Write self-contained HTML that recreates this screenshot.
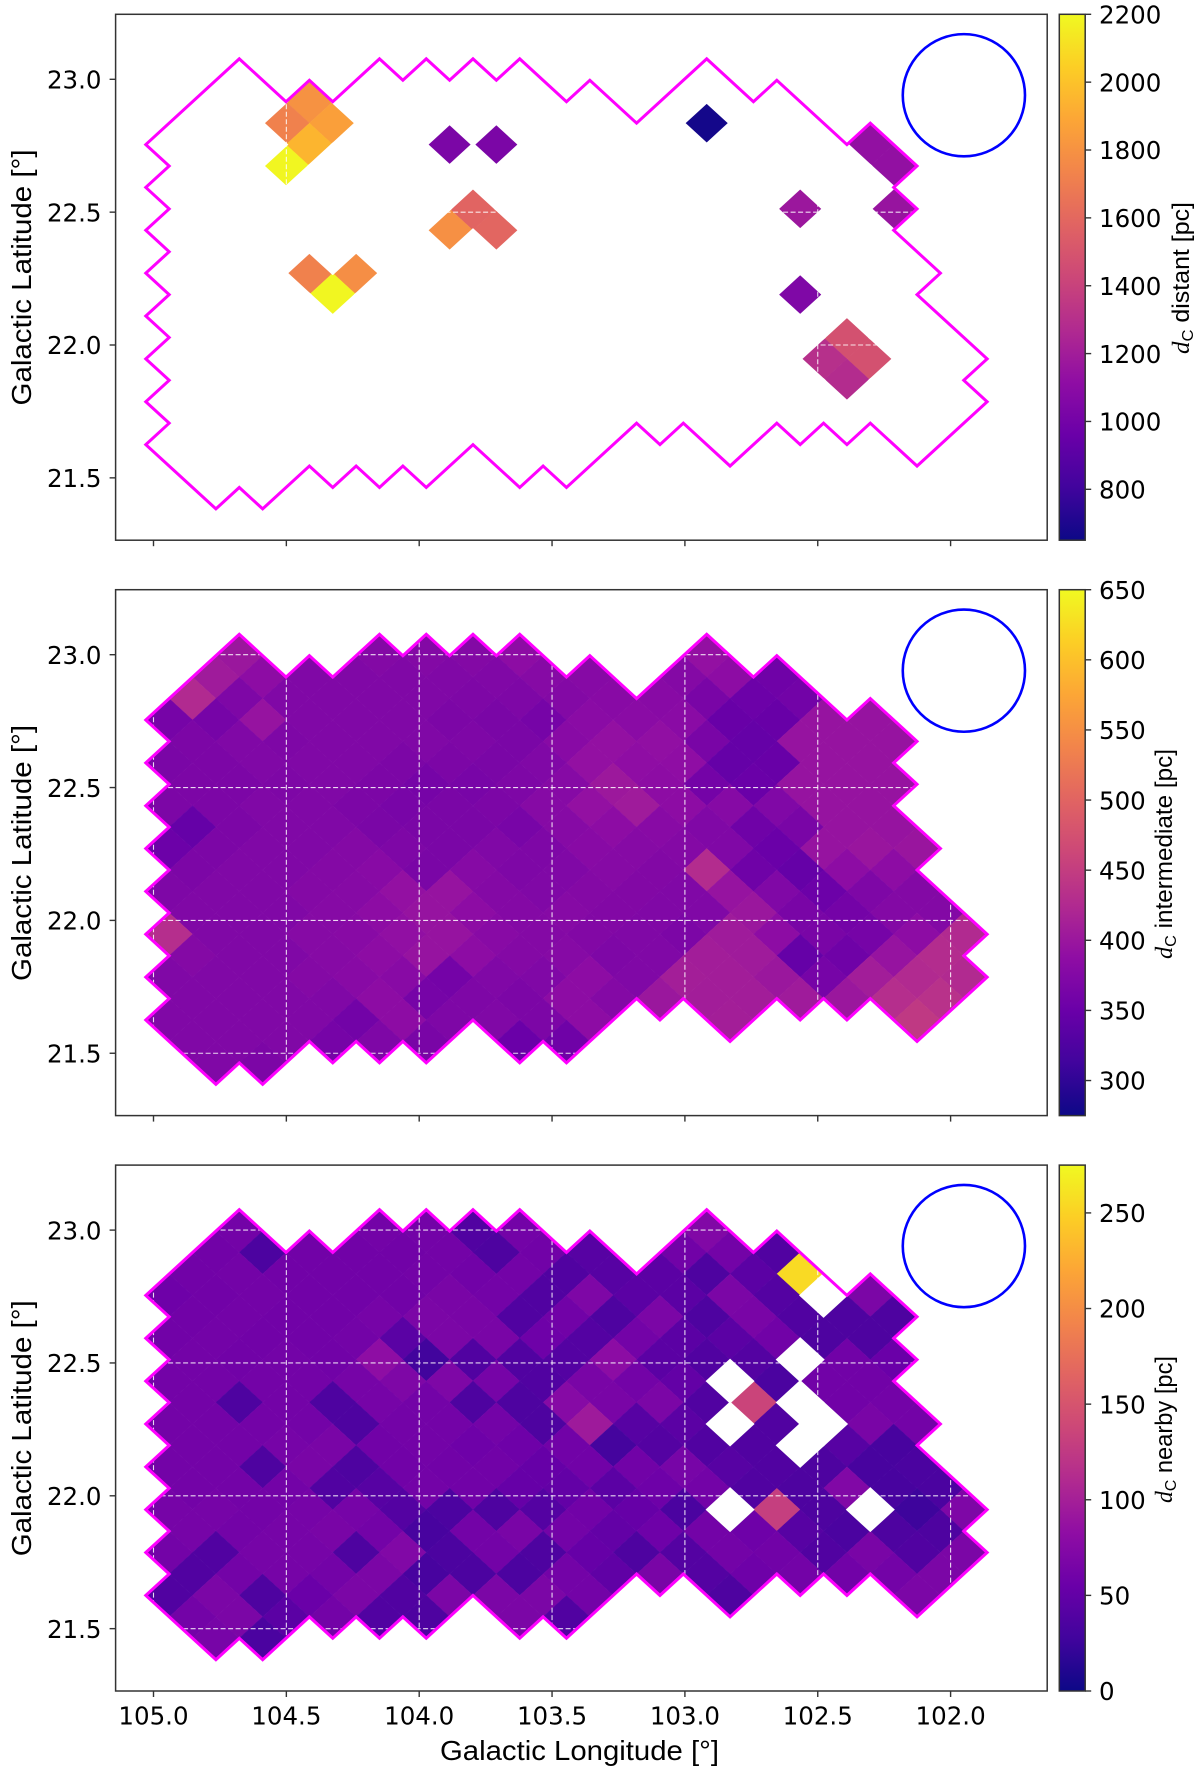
<!DOCTYPE html>
<html>
<head>
<meta charset="utf-8">
<title>Distance maps</title>
<style>
html,body{margin:0;padding:0;background:#fff;width:1200px;height:1774px;overflow:hidden}
svg{display:block}
text{font-family:"DejaVu Sans","Liberation Sans",sans-serif;fill:#000}
.tick{font-size:24.5px}
.axl{font-family:"Liberation Sans","DejaVu Sans",sans-serif;font-size:28px}
.cbl{font-family:"Liberation Sans","DejaVu Sans",sans-serif;font-size:24px}
.mi{font-family:"Liberation Serif",serif;font-style:italic}
</style>
</head>
<body>
<svg id="figure" xmlns="http://www.w3.org/2000/svg" width="1200" height="1774" viewBox="0 0 1200 1774">
<defs>
<linearGradient id="plasma-gradient" x1="0" y1="1" x2="0" y2="0">
<stop offset="0" stop-color="#0d0887"/><stop offset="0.1" stop-color="#41049d"/><stop offset="0.2" stop-color="#6a00a8"/><stop offset="0.3" stop-color="#8f0da4"/><stop offset="0.4" stop-color="#b12a90"/><stop offset="0.5" stop-color="#cc4778"/><stop offset="0.6" stop-color="#e16462"/><stop offset="0.7" stop-color="#f2844b"/><stop offset="0.8" stop-color="#fca636"/><stop offset="0.9" stop-color="#fcce25"/><stop offset="1" stop-color="#f0f921"/>
</linearGradient>
</defs>
<g id="layer"></g>
<text class="axl" transform="translate(31,277.5) rotate(-90)" text-anchor="middle" textLength="256" lengthAdjust="spacingAndGlyphs">Galactic Latitude [°]</text>
<text class="axl" transform="translate(31,853) rotate(-90)" text-anchor="middle" textLength="256" lengthAdjust="spacingAndGlyphs">Galactic Latitude [°]</text>
<text class="axl" transform="translate(31,1428.3) rotate(-90)" text-anchor="middle" textLength="256" lengthAdjust="spacingAndGlyphs">Galactic Latitude [°]</text>
<text class="axl" x="440" y="1760" textLength="279" lengthAdjust="spacingAndGlyphs">Galactic Longitude [°]</text>
<text class="cbl" transform="translate(1189,354) rotate(-90)" textLength="152" lengthAdjust="spacingAndGlyphs"><tspan class="mi">d</tspan><tspan dy="4" font-size="16">C</tspan><tspan dy="-4"> distant [pc]</tspan></text>
<text class="cbl" transform="translate(1172,959) rotate(-90)" textLength="210" lengthAdjust="spacingAndGlyphs"><tspan class="mi">d</tspan><tspan dy="4" font-size="16">C</tspan><tspan dy="-4"> intermediate [pc]</tspan></text>
<text class="cbl" transform="translate(1172,1503) rotate(-90)" textLength="147" lengthAdjust="spacingAndGlyphs"><tspan class="mi">d</tspan><tspan dy="4" font-size="16">C</tspan><tspan dy="-4"> nearby [pc]</tspan></text>
</svg>
<script>
// ---- categories: HEALPix-like grid columns per row (row number = index + 1)
const rowColumns = [
[4,10,12,14,16,24],
[3,5,7,9,11,13,15,17,19,23,25,27],
[2,4,6,8,10,12,14,16,18,20,22,24,26,28],
[1,3,5,7,9,11,13,15,17,19,21,23,25,27,29,31],
[2,4,6,8,10,12,14,16,18,20,22,24,26,28,30,32],
[1,3,5,7,9,11,13,15,17,19,21,23,25,27,29,31],
[2,4,6,8,10,12,14,16,18,20,22,24,26,28,30,32],
[1,3,5,7,9,11,13,15,17,19,21,23,25,27,29,31],
[2,4,6,8,10,12,14,16,18,20,22,24,26,28,30,32],
[1,3,5,7,9,11,13,15,17,19,21,23,25,27,29,31,33],
[2,4,6,8,10,12,14,16,18,20,22,24,26,28,30,32],
[1,3,5,7,9,11,13,15,17,19,21,23,25,27,29,31,33],
[2,4,6,8,10,12,14,16,18,20,22,24,26,28,30,32,34],
[1,3,5,7,9,11,13,15,17,19,21,23,25,27,29,31,33,35],
[2,4,6,8,10,12,14,16,18,20,22,24,26,28,30,32,34],
[1,3,5,7,9,11,13,15,17,19,21,23,25,27,29,31,33,35],
[2,4,6,8,10,12,14,16,18,20,22,24,26,28,30,32,34],
[1,3,5,7,9,11,13,15,17,19,25,33],
[2,4,6,8,10,12,16,18],
[3,5]
];

// ---- series: intermediate distance [pc], aligned with rowColumns
const intermediateValues = [
[400,375,375,375,385,392],
[405,385,372,372,372,372,372,378,378,376,385,355],
[425,370,372,372,372,372,370,370,375,380,380,365,352,358],
[362,362,395,372,372,372,368,366,362,382,382,382,348,348,395,395],
[368,372,370,372,372,372,370,366,380,392,390,365,345,395,395,395],
[366,368,372,372,372,368,368,366,372,392,388,388,345,348,395,395],
[368,368,370,372,368,362,364,370,378,402,385,360,350,395,395,395],
[368,368,372,372,368,364,366,368,378,392,405,385,378,372,395,395],
[345,368,372,372,366,366,366,364,378,385,380,372,355,365,395,395],
[352,368,372,372,376,370,366,372,370,380,378,376,372,350,395,398,398],
[368,372,372,376,380,366,378,370,372,378,374,428,355,345,385,385],
[370,372,372,376,378,392,395,376,372,376,374,372,395,372,352,370,375],
[372,372,372,378,385,395,385,376,378,374,372,372,400,365,360,375,375],
[430,372,372,378,380,390,395,380,376,374,372,368,405,385,365,362,385,425],
[376,372,372,378,385,395,385,376,378,370,372,408,405,345,355,395,428],
[372,372,372,376,380,380,360,372,372,385,372,410,408,400,362,408,425,425],
[372,372,372,372,385,362,370,368,385,376,400,408,408,405,400,430,435],
[372,372,372,372,358,385,370,372,368,385,410,445],
[372,372,372,362,370,365,350,355],
[372,368]
];

// ---- series: nearby distance [pc], aligned with rowColumns (null = no data)
const nearbyValues = [
[62,62,62,38,62,72],
[60,35,60,60,60,62,36,60,42,60,62,38],
[60,62,60,60,60,62,60,62,38,42,45,36,45,255],
[58,60,62,60,60,60,66,62,38,70,45,45,68,40,null,68],
[60,62,60,60,64,68,66,38,60,36,68,36,66,38,36,36],
[60,62,60,60,62,44,68,66,58,40,62,45,45,60,36,36],
[62,60,62,60,82,28,38,38,40,80,45,38,40,null,60,55],
[62,62,62,62,64,70,70,64,38,66,62,50,null,34,60,60],
[62,36,62,36,64,62,36,36,76,66,68,38,135,null,60,62],
[62,62,62,62,36,62,62,62,36,95,42,45,null,38,null,66,62],
[62,62,64,66,60,62,58,58,60,30,40,38,38,null,42,32],
[62,62,36,66,36,60,60,60,52,60,60,65,42,38,36,32,34],
[62,62,62,38,42,62,60,52,50,45,58,62,38,36,72,32,34],
[64,64,62,64,64,40,35,36,40,60,52,34,null,130,36,null,26,70],
[64,62,64,66,62,32,62,66,62,50,58,62,58,42,34,36,36],
[62,38,64,64,36,72,35,62,36,52,36,40,62,60,38,66,38,68],
[38,62,64,62,68,32,35,35,62,48,66,40,58,62,60,62,68],
[38,68,36,55,68,38,68,68,68,62,36,68],
[62,68,45,62,38,36,68,38],
[65,34]
];

// ---- series: distant distance [pc], only the detected cells
const distantColumns = [7,6,8,7,6,13,15,14,13,15,7,9,8,24,31,32,32,28,28,30,31,29,30];
const distantRows    = [2,3,3,4,5,4,4,7,8,8,10,10,11,3,4,5,7,7,11,13,14,14,15];
const distantValues  = [1800,1720,1860,1950,2190,1030,1030,1580,1790,1590,1720,1780,2190,670,1130,1130,1150,1170,1050,1480,1480,1300,1280];

// ---- outline of the mapped region, as grid vertices
const outlineColumns = [0,4,6,7,8,10,11,12,13,14,15,16,18,19,21,24,26,27,30,31,33,32,33,32,34,33,36,35,36,33,31,30,29,28,27,25,23,22,21,18,17,16,14,12,11,10,9,8,7,5,4,3,0,1,0,1,0,1,0,1,0,1,0,1,0,1];
const outlineRows    = [4,0,2,1,2,0,1,0,1,0,1,0,2,1,3,0,2,1,4,3,5,6,7,8,10,11,14,15,16,19,17,18,17,18,17,19,17,18,17,20,19,20,18,20,19,20,19,20,19,21,20,21,18,17,16,15,14,13,12,11,10,9,8,7,6,5];

// ---- tick labels
const lonTicks = [105.0,104.5,104.0,103.5,103.0,102.5,102.0];
const latTicks = [23.0,22.5,22.0,21.5];
const distantBarTicks = [800,1000,1200,1400,1600,1800,2000,2200];
const intermediateBarTicks = [300,350,400,450,500,550,600,650];
const nearbyBarTicks = [0,50,100,150,200,250];

// ---- colour ranges
const distantRange = [650,2200];
const intermediateRange = [275,650];
const nearbyRange = [0,275];

// ---- beam centre and radius in degrees
const beamLon = 101.95, beamLat = 22.94, beamRadius = 0.23;

// ---- grid definition in degrees
const gridLon0 = 105.029, gridLonStep = 0.08796, gridLat0 = 23.077, gridLatStep = 0.08066;

const NS = 'http://www.w3.org/2000/svg';
const layer = document.getElementById('layer');
const plasmaStops = [[13,8,135],[65,4,157],[106,0,168],[143,13,164],[177,42,144],[204,71,120],[225,100,98],[242,132,75],[252,166,54],[252,206,37],[240,249,33]];
function plasma(t){
  t = Math.max(0, Math.min(1, t)) * 10;
  const k = Math.min(9, Math.floor(t)), f = t - k;
  const a = plasmaStops[k], b = plasmaStops[k + 1];
  return 'rgb(' + [0,1,2].map(n => Math.round(a[n] + (b[n] - a[n]) * f)).join(',') + ')';
}
const LEFT = 115.6, RIGHT = 1047.2, HEIGHT = 525.9, CB_L = 1059.3, CB_R = 1085.2, PXDEG = 265.7;
function lonToX(lon){ return 153.5 + (105 - lon) * PXDEG; }
function latToY(lat, top){ return top + 65 + (23 - lat) * PXDEG; }
function colLon(c){ return gridLon0 - c * gridLonStep; }
function rowLat(r){ return gridLat0 - r * gridLatStep; }
function make(tag, attrs){
  const el = document.createElementNS(NS, tag);
  for (const k in attrs) el.setAttribute(k, attrs[k]);
  layer.appendChild(el);
  return el;
}
function diamond(col, row, half, top){
  return [[col-half,row],[col,row-half],[col+half,row],[col,row+half]]
    .map(p => lonToX(colLon(p[0])).toFixed(2) + ',' + latToY(rowLat(p[1]), top).toFixed(2)).join(' ');
}
function drawCell(col, row, value, range, top){
  const color = plasma((value - range[0]) / (range[1] - range[0]));
  const el = make('polygon', {points: diamond(col, row, 1, top), fill: color, stroke: color, 'stroke-width': 0.4});
  
  
}
function drawHole(col, row, half, top){
  const el = make('polygon', {points: diamond(col, row, half, top), fill: '#fff'});
  
  
}
function drawPanel(name, top, range, barTicks, cells, showXLabels){
  cells();
  lonTicks.forEach(lon => {
    const g = make('line', {x1: lonToX(lon), x2: lonToX(lon), y1: top, y2: top + HEIGHT, stroke: '#fff', 'stroke-width': 1.1, 'stroke-dasharray': '5 2.5', opacity: 0.85});
    
    
  });
  latTicks.forEach(lat => {
    const g = make('line', {x1: LEFT, x2: RIGHT, y1: latToY(lat, top), y2: latToY(lat, top), stroke: '#fff', 'stroke-width': 1.1, 'stroke-dasharray': '5 2.5', opacity: 0.85});
    
    
  });
  const outlinePts = outlineColumns.map((c, n) => lonToX(colLon(c)).toFixed(2) + ',' + latToY(rowLat(outlineRows[n]), top).toFixed(2)).join(' ');
  const outline = make('polygon', {points: outlinePts, fill: 'none', stroke: '#ff00ff', 'stroke-width': 3, 'stroke-linejoin': 'miter'});
  
  
  const beam = make('circle', {cx: lonToX(beamLon), cy: latToY(beamLat, top), r: beamRadius * PXDEG, fill: 'none', stroke: '#0000ff', 'stroke-width': 2.6});
  
  
  const frame = make('rect', {x: LEFT, y: top, width: RIGHT - LEFT, height: HEIGHT, fill: 'none', stroke: '#333', 'stroke-width': 1.5});
  
  
  lonTicks.forEach(lon => {
    const t = make('line', {x1: lonToX(lon), x2: lonToX(lon), y1: top + HEIGHT, y2: top + HEIGHT + 6, stroke: '#333', 'stroke-width': 1.4});
    
    
    if (showXLabels) {
      const l = make('text', {x: lonToX(lon), y: top + HEIGHT + 33.5, 'text-anchor': 'middle', class: 'tick'});
      l.textContent = lon.toFixed(1);
      
      
    }
  });
  latTicks.forEach(lat => {
    const y = latToY(lat, top);
    const t = make('line', {x1: LEFT - 6, x2: LEFT, y1: y, y2: y, stroke: '#333', 'stroke-width': 1.4});
    
    
    const l = make('text', {x: 101.5, y: y + 9.2, 'text-anchor': 'end', class: 'tick'});
    l.textContent = lat.toFixed(1);
    
    
  });
  const bar = make('rect', {x: CB_L, y: top, width: CB_R - CB_L, height: HEIGHT, fill: 'url(#plasma-gradient)', stroke: '#333', 'stroke-width': 1.5});
  
  
  barTicks.forEach(v => {
    const y = top + HEIGHT * (1 - (v - range[0]) / (range[1] - range[0]));
    const t = make('line', {x1: CB_R, x2: CB_R + 6, y1: y, y2: y, stroke: '#333', 'stroke-width': 1.4});
    
    
    const l = make('text', {x: 1099, y: y + 9.2, class: 'tick'});
    l.textContent = String(v);
    
    
  });
}
function griddedCells(values, range, top){
  return function(){
    rowColumns.forEach((cols, r) => cols.forEach((c, n) => {
      if (values[r][n] !== null) drawCell(c, r + 1, values[r][n], range, top);
    }));
    rowColumns.forEach((cols, r) => cols.forEach((c, n) => {
      if (values[r][n] === null) drawHole(c, r + 1, 1.05, top);
    }));
  };
}
drawPanel('distant', 14.3, distantRange, distantBarTicks, function(){
  distantValues.forEach((v, n) => drawCell(distantColumns[n], distantRows[n], v, distantRange, 14.3));
  rowColumns.forEach((cols, r) => cols.forEach(c => {
    const filled = distantColumns.some((dc, n) => dc === c && distantRows[n] === r + 1);
    if (!filled) drawHole(c, r + 1, 1.1, 14.3);
  }));
}, false);
drawPanel('intermediate', 589.7, intermediateRange, intermediateBarTicks, griddedCells(intermediateValues, intermediateRange, 589.7), false);
drawPanel('nearby', 1165.1, nearbyRange, nearbyBarTicks, griddedCells(nearbyValues, nearbyRange, 1165.1), true);
</script>
</body>
</html>
